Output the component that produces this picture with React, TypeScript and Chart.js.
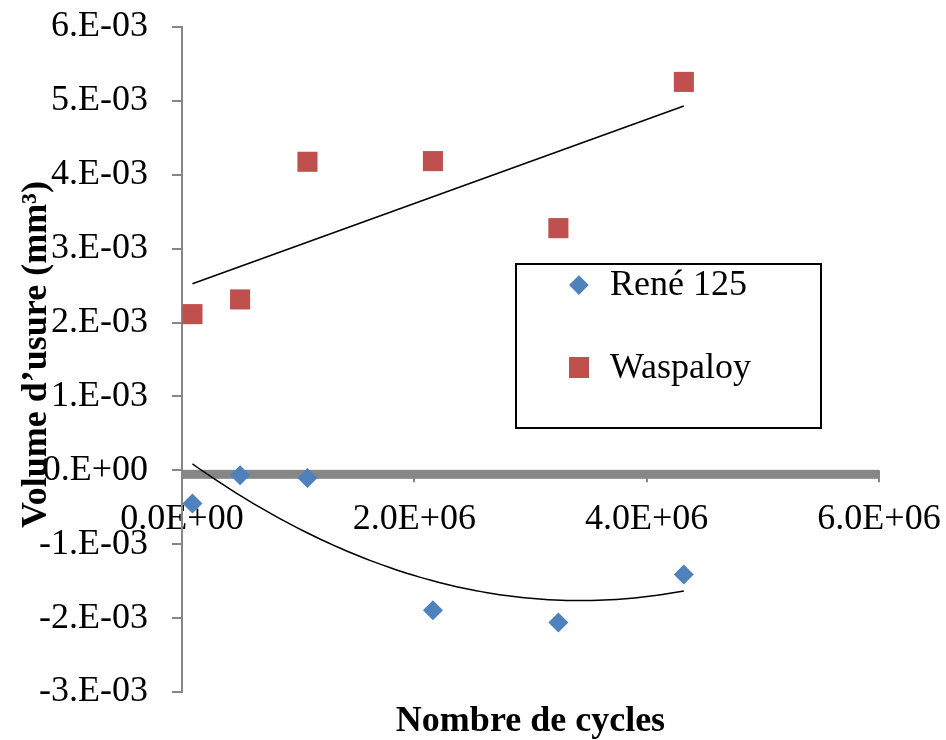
import React, { useEffect, useRef } from "react";
import { Chart, registerables } from "chart.js";

Chart.register(...registerables);

// ---- Data ----
const CYCLES = [0.09e6, 0.5e6, 1.08e6, 2.16e6, 3.24e6, 4.32e6];
const RENE_125 = [-0.45e-3, -0.066e-3, -0.103e-3, -1.894e-3, -2.061e-3, -1.411e-3];
const WASPALOY = [2.114e-3, 2.313e-3, 4.176e-3, 4.185e-3, 3.278e-3, 5.257e-3];

const SERIES_NAMES = ["René 125", "Waspaloy"];
const Y_TICK_VALUES = [-3, -2, -1, 0, 1, 2, 3, 4, 5, 6];
const Y_TICK_LABELS = ["-3.E-03", "-2.E-03", "-1.E-03", "0.E+00", "1.E-03", "2.E-03", "3.E-03", "4.E-03", "5.E-03", "6.E-03"];
const X_TICK_LABELS = ["0.0E+00", "2.0E+06", "4.0E+06", "6.0E+06"];
const X_TITLE = "Nombre de cycles";
const Y_TITLE = "Volume d\u2019usure (mm\u00b3)";

const BLUE = "#4F81BD";
const RED = "#C0504D";
const AXIS_GRAY = "#868686";
const FONT = '"Liberation Serif", "Times New Roman", serif';

// least-squares fits (Excel-style trendlines)
function linearFit(xs: number[], ys: number[]) {
  const n = xs.length;
  const mx = xs.reduce((a, b) => a + b, 0) / n;
  const my = ys.reduce((a, b) => a + b, 0) / n;
  let sxy = 0, sxx = 0;
  for (let i = 0; i < n; i++) {
    sxy += (xs[i] - mx) * (ys[i] - my);
    sxx += (xs[i] - mx) * (xs[i] - mx);
  }
  const b = sxy / sxx;
  const a = my - b * mx;
  return (x: number) => a + b * x;
}

function quadFit(xs: number[], ys: number[]) {
  const s = 1e6;
  const u = xs.map((x) => x / s);
  const S = [0, 0, 0, 0, 0];
  const T = [0, 0, 0];
  for (let i = 0; i < u.length; i++) {
    let p = 1;
    for (let k = 0; k < 5; k++) {
      S[k] += p;
      if (k < 3) T[k] += p * ys[i];
      p *= u[i];
    }
  }
  const M = [
    [S[0], S[1], S[2], T[0]],
    [S[1], S[2], S[3], T[1]],
    [S[2], S[3], S[4], T[2]],
  ];
  for (let c = 0; c < 3; c++) {
    for (let r = c + 1; r < 3; r++) {
      const f = M[r][c] / M[c][c];
      for (let k = c; k < 4; k++) M[r][k] -= f * M[c][k];
    }
  }
  const coef = [0, 0, 0];
  for (let r = 2; r >= 0; r--) {
    let v = M[r][3];
    for (let k = r + 1; k < 3; k++) v -= M[r][k] * coef[k];
    coef[r] = v / M[r][r];
  }
  return (x: number) => {
    const t = x / s;
    return coef[0] + coef[1] * t + coef[2] * t * t;
  };
}

function sampleCurve(f: (x: number) => number, x0: number, x1: number, n: number) {
  const pts: { x: number; y: number }[] = [];
  for (let i = 0; i <= n; i++) {
    const x = x0 + ((x1 - x0) * i) / n;
    pts.push({ x, y: f(x) });
  }
  return pts;
}

const zeroBandPlugin = {
  id: "zeroBand",
  beforeDatasetsDraw(chart: any) {
    const { ctx, chartArea, scales } = chart;
    const y0 = scales.y.getPixelForValue(0);
    ctx.save();
    ctx.fillStyle = AXIS_GRAY;
    ctx.fillRect(chartArea.left, y0 - 0.5, chartArea.right - chartArea.left, 9);
    // short tick marks below the thick x axis
    ctx.strokeStyle = AXIS_GRAY;
    ctx.lineWidth = 2;
    for (const t of scales.x.ticks) {
      const px = Math.round(scales.x.getPixelForValue(t.value));
      ctx.beginPath();
      ctx.moveTo(px, y0);
      ctx.lineTo(px, y0 + 12);
      ctx.stroke();
    }
    ctx.restore();
  },
};

const titlesPlugin = {
  id: "axisTitles",
  afterDraw(chart: any) {
    const { ctx, chartArea } = chart;
    ctx.save();
    ctx.fillStyle = "#000";
    ctx.font = `bold 36px ${FONT}`;
    ctx.textAlign = "center";
    ctx.textBaseline = "alphabetic";
    ctx.fillText(X_TITLE, (chartArea.left + chartArea.right) / 2, chart.height - 9);
    ctx.translate(46, (chartArea.top + chartArea.bottom) / 2 - 5);
    ctx.rotate(-Math.PI / 2);
    ctx.fillText(Y_TITLE, 0, 0);
    ctx.restore();
  },
};

export default function App() {
  const canvasRef = useRef<HTMLCanvasElement | null>(null);

  useEffect(() => {
    document.body.style.margin = "0";
    const canvas = canvasRef.current;
    if (!canvas) return;

    const renePts = CYCLES.map((x, i) => ({ x, y: RENE_125[i] }));
    const waspPts = CYCLES.map((x, i) => ({ x, y: WASPALOY[i] }));
    const xMin = Math.min(...CYCLES);
    const xMax = Math.max(...CYCLES);
    const waspTrend = sampleCurve(linearFit(CYCLES, WASPALOY), xMin, xMax, 1);
    const reneTrend = sampleCurve(quadFit(CYCLES, RENE_125), xMin, xMax, 80);

    const chart = new Chart(canvas, {
      type: "scatter",
      data: {
        datasets: [
          {
            label: "trend Waspaloy",
            data: waspTrend,
            showLine: true,
            borderColor: "#000",
            borderWidth: 1.5,
            pointRadius: 0,
            pointHoverRadius: 0,
            order: 3,
          },
          {
            label: "trend René",
            data: reneTrend,
            showLine: true,
            borderColor: "#000",
            borderWidth: 1.5,
            pointRadius: 0,
            pointHoverRadius: 0,
            order: 3,
          },
          {
            label: SERIES_NAMES[0],
            data: renePts,
            pointStyle: "rectRot",
            pointRadius: 10,
            pointBackgroundColor: BLUE,
            pointBorderColor: BLUE,
            pointBorderWidth: 0,
            order: 1,
          },
          {
            label: SERIES_NAMES[1],
            data: waspPts,
            pointStyle: "rect",
            pointRadius: 14.2,
            pointBackgroundColor: RED,
            pointBorderColor: RED,
            pointBorderWidth: 0,
            order: 2,
          },
        ],
      },
      options: {
        responsive: false,
        animation: false,
        devicePixelRatio: 1,
        layout: { padding: { top: 27, right: 67, bottom: 48, left: 0 } },
        plugins: {
          legend: { display: false },
          tooltip: { enabled: false },
        },
        scales: {
          x: {
            type: "linear",
            position: { y: 0 },
            min: 0,
            max: 6e6,
            ticks: {
              stepSize: 2e6,
              color: "#000",
              font: { family: FONT, size: 36 },
              padding: 12,
              maxRotation: 0,
              autoSkip: false,
              callback: (v: any) => X_TICK_LABELS[Math.round(Number(v) / 2e6)] ?? "",
            },
            grid: {
              drawOnChartArea: false,
              drawTicks: true,
              tickLength: 16,
              tickColor: "rgba(0,0,0,0)",
              color: "rgba(0,0,0,0)",
              lineWidth: 0,
            },
            border: { display: false },
            title: { display: false },
            afterFit: (s: any) => {
              s.paddingLeft = 0;
              s.paddingRight = 0;
              s.paddingTop = 0;
              s.paddingBottom = 0;
            },
          },
          y: {
            type: "linear",
            position: "left",
            min: -3e-3,
            max: 6e-3,
            ticks: {
              stepSize: 1e-3,
              color: "#000",
              font: { family: FONT, size: 36 },
              padding: 24,
              autoSkip: false,
              callback: (v: any) => {
                const k = Math.round(Number(v) * 1000);
                const idx = Y_TICK_VALUES.indexOf(k);
                return idx >= 0 ? Y_TICK_LABELS[idx] : "";
              },
            },
            grid: {
              drawOnChartArea: false,
              drawTicks: true,
              tickLength: 10,
              color: AXIS_GRAY,
              lineWidth: 2,
            },
            border: { display: true, color: AXIS_GRAY, width: 2 },
            title: { display: false },
            afterFit: (s: any) => {
              s.width = 182;
              s.paddingTop = 0;
              s.paddingBottom = 0;
              s.paddingLeft = 0;
              s.paddingRight = 0;
            },
          },
        },
      },
      plugins: [zeroBandPlugin, titlesPlugin],
    } as any);

    return () => chart.destroy();
  }, []);

  const textStyle: React.CSSProperties = {
    position: "absolute",
    left: 610,
    fontFamily: FONT,
    fontSize: 36,
    lineHeight: "36px",
    color: "#000",
    whiteSpace: "nowrap",
  };

  return (
    <div style={{ position: "relative", width: 946, height: 740, background: "#fff" }}>
      <canvas ref={canvasRef} width={946} height={740} style={{ display: "block", width: 946, height: 740 }} />
      <div
        style={{
          position: "absolute",
          left: 515,
          top: 263,
          width: 307,
          height: 166,
          boxSizing: "border-box",
          border: "2px solid #000",
          pointerEvents: "none",
        }}
      />
      <div
        style={{
          position: "absolute",
          left: 578.7 - 6.9,
          top: 284.5 - 6.9,
          width: 13.8,
          height: 13.8,
          background: BLUE,
          transform: "rotate(45deg)",
        }}
      />
      <div style={{ ...textStyle, top: 265 }}>{SERIES_NAMES[0]}</div>
      <div
        style={{
          position: "absolute",
          left: 568.5,
          top: 357.2,
          width: 20.5,
          height: 20.5,
          background: RED,
        }}
      />
      <div style={{ ...textStyle, top: 348 }}>{SERIES_NAMES[1]}</div>
    </div>
  );
}
